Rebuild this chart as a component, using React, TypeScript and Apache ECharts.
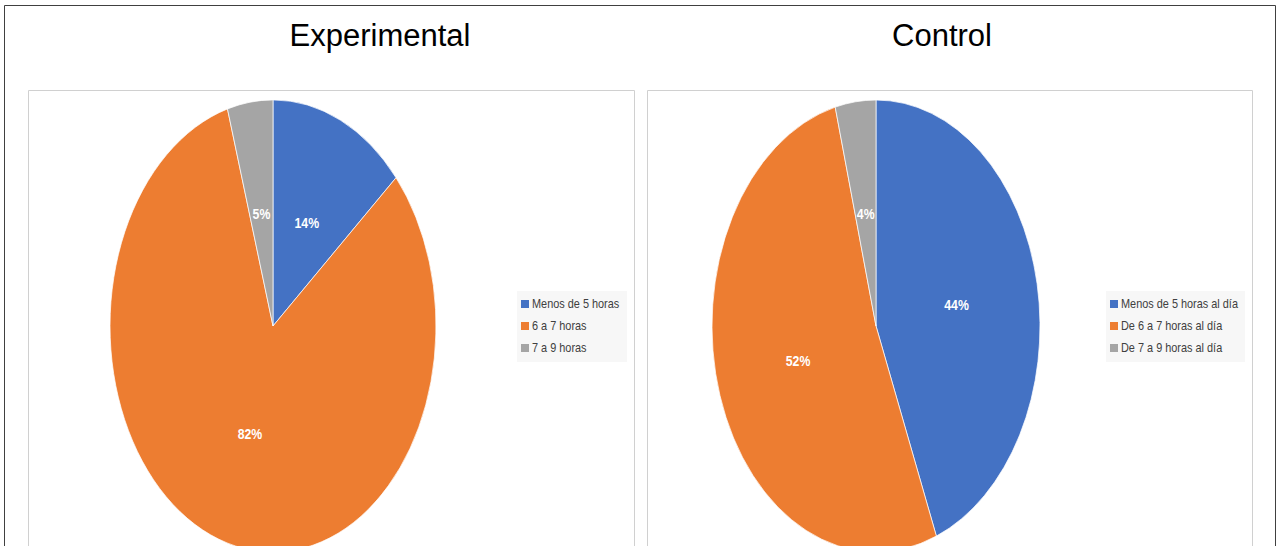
import React, { useEffect, useRef } from "react";
import * as echarts from "echarts";

const titles = ["Experimental", "Control"];
const expCategories = ["Menos de 5 horas", "6 a 7 horas", "7 a 9 horas"];
const expValues = [13.6, 81.8, 4.5];
const ctrlCategories = ["Menos de 5 horas al día", "De 6 a 7 horas al día", "De 7 a 9 horas al día"];
const ctrlValues = [44, 52, 4];
const colors = ["#4472C4", "#ED7D31", "#A5A5A5"];

const SANS = '"Liberation Sans", Arial, sans-serif';
const NARROW_SCALE = 0.82;

function pieSeries(values: number[], cx: number, cy: number, rx: number, ry: number) {
  const total = values.reduce((a, b) => a + b, 0);
  return {
    type: "custom",
    coordinateSystem: "none",
    data: values.map((v) => [v]),
    renderItem: (params: any, api: any) => {
      const i = params.dataIndex;
      let before = 0;
      for (let k = 0; k < i; k++) before += values[k];
      const v = api.value(0);
      const start = -Math.PI / 2 + (2 * Math.PI * before) / total;
      const end = start + (2 * Math.PI * v) / total;
      const mid = (start + end) / 2;
      const pct = Math.round((v / total) * 100);
      return {
        type: "group",
        children: [
          {
            type: "sector",
            x: cx,
            y: cy,
            scaleY: ry / rx,
            shape: { cx: 0, cy: 0, r: rx, r0: 0, startAngle: start, endAngle: end, clockwise: true },
            style: { fill: colors[i], stroke: "#ffffff", lineWidth: 0.6, strokeNoScale: true },
          },
          {
            type: "text",
            x: cx + 0.5 * rx * Math.cos(mid),
            y: cy + 0.5 * ry * Math.sin(mid),
            scaleX: NARROW_SCALE,
            style: {
              text: pct + "%",
              fill: "#ffffff",
              fontSize: 15,
              fontWeight: "bold",
              fontFamily: SANS,
              align: "center",
              verticalAlign: "middle",
            },
          },
        ],
      };
    },
  };
}

function legend(cats: string[], boxX: number, boxW: number, sqX: number, textX: number) {
  const els: any[] = [
    { type: "rect", shape: { x: boxX, y: 291, width: boxW, height: 71 }, style: { fill: "#f7f7f7" }, silent: true },
  ];
  const rowsY = [304, 326, 348];
  cats.forEach((c, i) => {
    els.push({
      type: "rect",
      shape: { x: sqX, y: rowsY[i] - 4, width: 8, height: 8 },
      style: { fill: colors[i] },
    });
    els.push({
      type: "text",
      x: textX,
      y: rowsY[i],
      scaleX: NARROW_SCALE,
      style: {
        text: c,
        fill: "#404040",
        fontSize: 13.3,
        fontFamily: SANS,
        align: "left",
        verticalAlign: "middle",
      },
    });
  });
  return els;
}

export default function App() {
  const ref = useRef<HTMLDivElement>(null);
  useEffect(() => {
    document.body.style.margin = "0";
    const chart = echarts.init(ref.current!, undefined, { renderer: "svg" });
    const option: any = {
      animation: false,
      backgroundColor: "#ffffff",
      series: [pieSeries(expValues, 273, 326, 163, 226), pieSeries(ctrlValues, 876, 326, 164, 226)],
      graphic: [
        {
          type: "rect",
          z: -10,
          shape: { x: 4.5, y: 5.5, width: 1271, height: 600 },
          style: { fill: "none", stroke: "#404040", lineWidth: 1 },
          silent: true,
        },
        {
          type: "rect",
          z: -10,
          shape: { x: 28.5, y: 90.5, width: 606, height: 600 },
          style: { fill: "none", stroke: "#d0d0d0", lineWidth: 1 },
          silent: true,
        },
        {
          type: "rect",
          z: -10,
          shape: { x: 647.5, y: 90.5, width: 605, height: 600 },
          style: { fill: "none", stroke: "#d0d0d0", lineWidth: 1 },
          silent: true,
        },
        {
          type: "text",
          x: 380,
          y: 35,
          style: {
            text: titles[0],
            fill: "#000000",
            fontSize: 31,
            fontFamily: SANS,
            align: "center",
            verticalAlign: "middle",
          },
        },
        {
          type: "text",
          x: 942,
          y: 35,
          style: {
            text: titles[1],
            fill: "#000000",
            fontSize: 31,
            fontFamily: SANS,
            align: "center",
            verticalAlign: "middle",
          },
        },
        ...legend(expCategories, 517, 110, 521, 532),
        ...legend(ctrlCategories, 1106, 139, 1110, 1121),
      ],
    };
    chart.setOption(option);
    return () => chart.dispose();
  }, []);
  return (
    <div style={{ width: 1278, height: 553, background: "#fff" }}>
      <div ref={ref} style={{ width: 1278, height: 546 }} />
    </div>
  );
}
